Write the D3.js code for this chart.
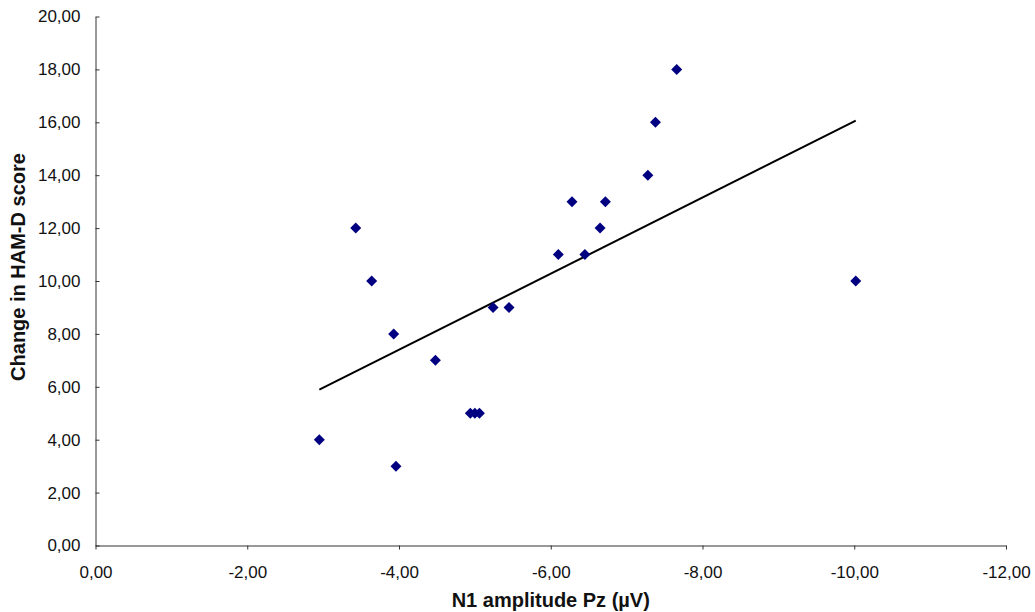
<!DOCTYPE html>
<html>
<head>
<meta charset="utf-8">
<script src="https://cdn.jsdelivr.net/npm/d3@7"></script>
<style>
  body { margin: 0; background: #fff; }
  .axis text { font-family: "Liberation Sans", Arial, sans-serif; font-size: 17px; fill: #111; }
  .axis path, .axis line { stroke: #333; }
  .title { font-family: "Liberation Sans", Arial, sans-serif; font-size: 20px; font-weight: bold; fill: #111; }
</style>
</head>
<body>
<div class="chart"></div>
<script>
	// data
	var n1Amp = [-2.95, -3.43, -3.64, -3.93, -3.96, -4.48, -4.94, -5.00, -5.06, -5.24, -5.45,
		-6.10, -6.28, -6.45, -6.65, -6.72, -7.28, -7.38, -7.66, -10.02];
	var hamd = [4, 12, 10, 8, 3, 7, 5, 5, 5, 9, 9,
		11, 13, 11, 12, 13, 14, 16, 18, 10];
	var trendX = [-2.95, -10.02];
	var trendY = [5.89, 16.06];
	var xTicks = [0, -2, -4, -6, -8, -10, -12];
	var yTicks = [0, 2, 4, 6, 8, 10, 12, 14, 16, 18, 20];

	var W = 1035, H = 612;
	var margin = { left: 95.5, right: 29, top: 16.5, bottom: 66.5 },
		width = W - margin.left - margin.right,
		height = H - margin.top - margin.bottom;

	var svg = d3.select(".chart")
		.append("svg")
			.attr("width", W)
			.attr("height", H)
		.append("g")
			.attr("transform", "translate(" + margin.left + "," + margin.top + ")");

	var locale = d3.formatLocale({ decimal: ",", thousands: ".", grouping: [3], currency: ["", ""], minus: "-" });
	var fmt = locale.format(".2f");

	var x = d3.scaleLinear().domain([0, -12]).range([0, width]);
	var y = d3.scaleLinear().domain([0, 20]).range([height, 0]);

	// y axis (ticks point inward)
	svg.append("g")
		.attr("class", "axis")
		.call(d3.axisLeft(y).tickValues(yTicks).tickFormat(fmt)
			.tickSizeInner(-4).tickSizeOuter(0).tickPadding(15));

	// x axis
	svg.append("g")
		.attr("class", "axis")
		.attr("transform", "translate(0," + height + ")")
		.call(d3.axisBottom(x).tickValues(xTicks).tickFormat(fmt)
			.tickSizeInner(4).tickSizeOuter(0).tickPadding(16));

	// trend line
	var trend = trendX.map(function(v, i) { return [v, trendY[i]]; });
	svg.append("path")
		.datum(trend)
		.attr("fill", "none")
		.attr("stroke", "#000")
		.attr("stroke-width", 2)
		.attr("d", d3.line().x(function(d) { return x(d[0]); }).y(function(d) { return y(d[1]); }));

	// points
	var pts = n1Amp.map(function(v, i) { return { amp: v, score: hamd[i] }; });
	svg.selectAll(".dot")
		.data(pts)
		.enter().append("path")
			.attr("class", "dot")
			.attr("d", d3.symbol().type(d3.symbolSquare).size(60))
			.attr("transform", function(d) {
				return "translate(" + x(d.amp) + "," + y(d.score) + ") rotate(45)";
			})
			.attr("fill", "#000080");

	// axis titles
	svg.append("text")
		.attr("class", "title")
		.attr("x", width / 2)
		.attr("y", height + 61)
		.attr("text-anchor", "middle")
		.text("N1 amplitude Pz (µV)");

	svg.append("text")
		.attr("class", "title")
		.attr("transform", "rotate(-90)")
		.attr("x", -(267 - margin.top))
		.attr("y", 25 - margin.left)
		.attr("text-anchor", "middle")
		.text("Change in HAM-D score");
</script>
</body>
</html>
